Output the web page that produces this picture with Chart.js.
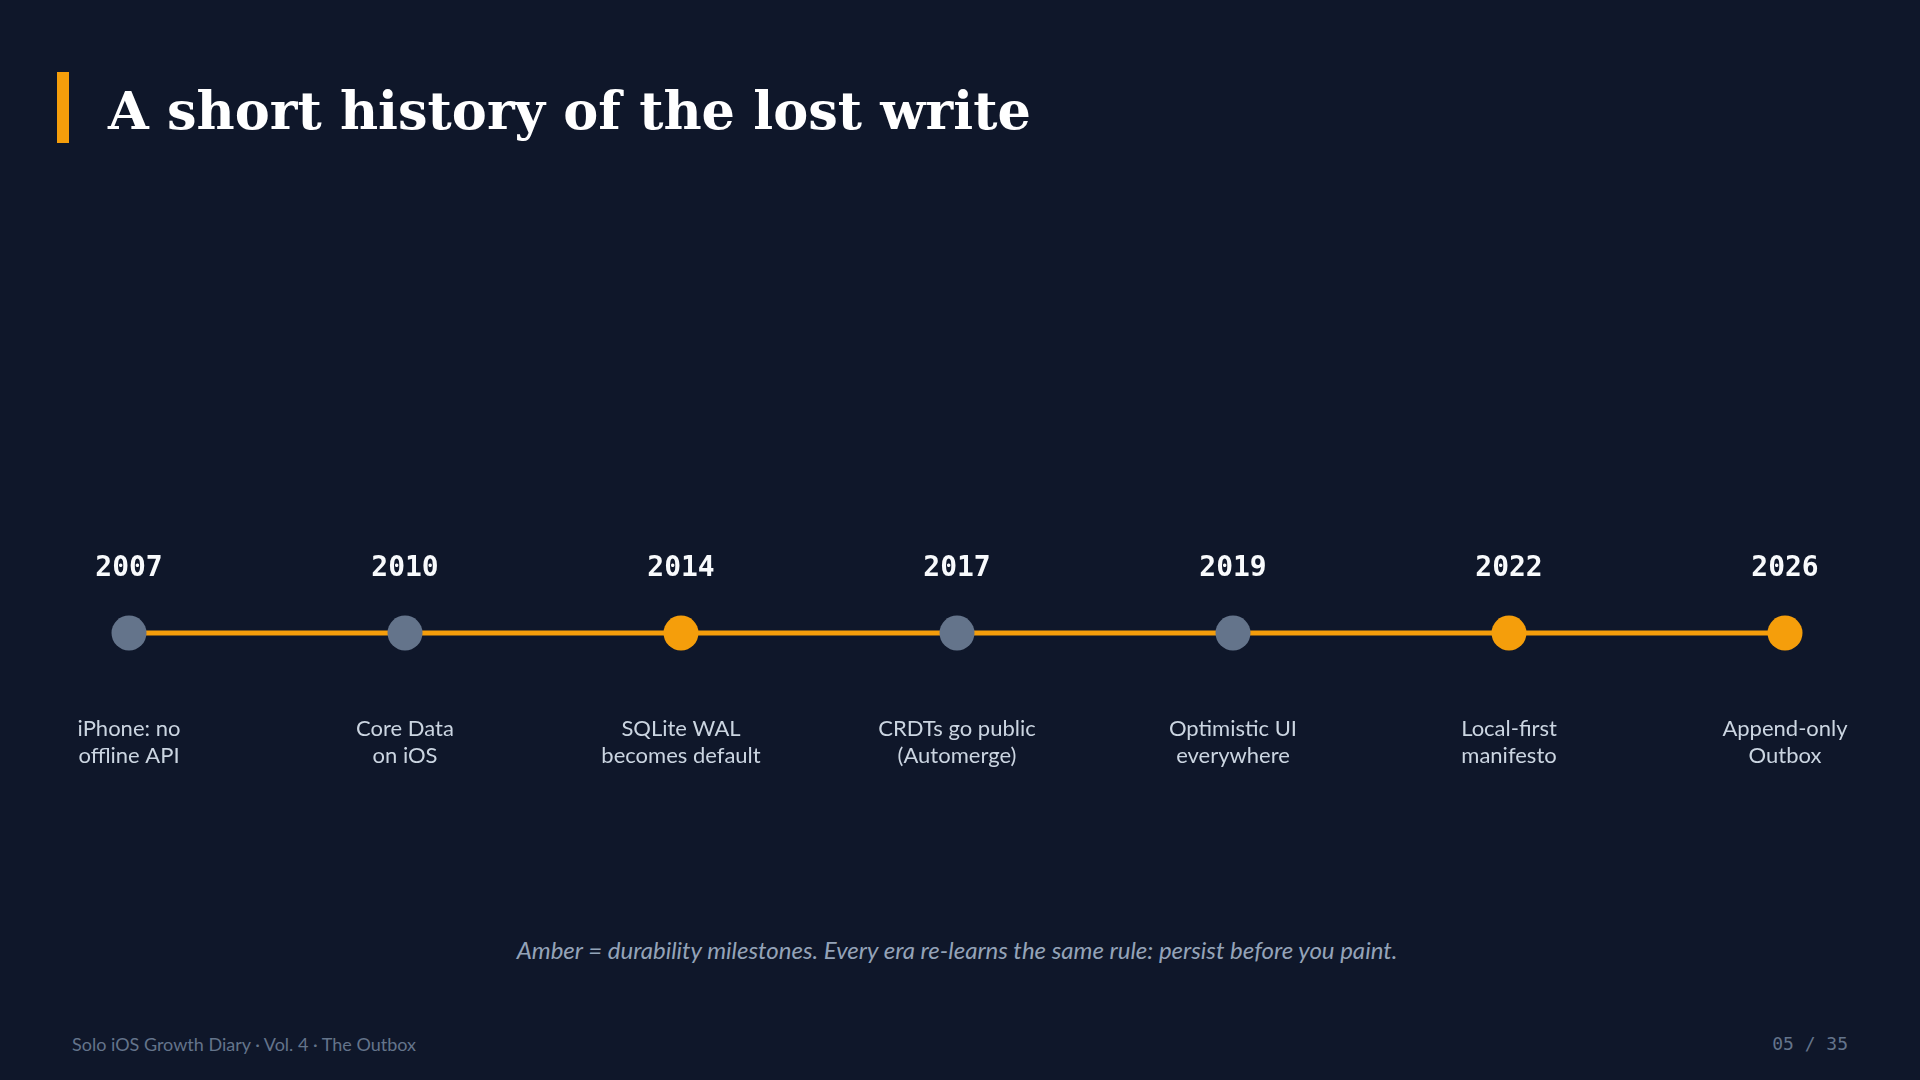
<!DOCTYPE html>
<html>
<head>
<meta charset="utf-8">
<script src="https://cdn.jsdelivr.net/npm/chart.js@4.4.1/dist/chart.umd.min.js"></script>
<style>
  html, body { margin: 0; padding: 0; background: #0f172a; }
  body { width: 1920px; height: 1080px; position: relative; overflow: hidden; font-family: Lato, "Noto Sans", sans-serif; }
  .bar { position: absolute; left: 57px; top: 72px; width: 12px; height: 71px; background: #f59e0b; }
  h1 { position: absolute; left: 108px; top: 76px; margin: 0; font-family: "DejaVu Serif", serif; font-weight: bold; font-size: 52.5px; line-height: 70px; color: #ffffff; }
  #wrap { position: absolute; left: 0; top: 483px; width: 1920px; height: 300px; }
  .caption { position: absolute; left: 0; width: 1914px; top: 935px; text-align: center; font-style: italic; font-size: 24px; color: #94a3b8; }
  .foot { position: absolute; top: 1033px; font-size: 18px; color: #64748b; }
  .foot.left { left: 72px; }
  .foot.right { right: 72px; font-family: "DejaVu Sans Mono", monospace; font-size: 18px; }
</style>
</head>
<body>
<div class="bar"></div>
<h1>A short history of the lost write</h1>
<div id="wrap"><canvas id="timeline"></canvas></div>
<div class="caption">Amber = durability milestones. Every era re-learns the same rule: persist before you paint.</div>
<div class="foot left">Solo iOS Growth Diary · Vol. 4 · The Outbox</div>
<div class="foot right">05 / 35</div>
<script>
const years = ["2007", "2010", "2014", "2017", "2019", "2022", "2026"];
const events = [
  ["iPhone: no", "offline API"],
  ["Core Data", "on iOS"],
  ["SQLite WAL", "becomes default"],
  ["CRDTs go public", "(Automerge)"],
  ["Optimistic UI", "everywhere"],
  ["Local-first", "manifesto"],
  ["Append-only", "Outbox"]
];
const durability = [false, false, true, false, false, true, true];
const track = [0, 0, 0, 0, 0, 0, 0];

const AMBER = "#f59e0b";
const SLATE = "#64748b";

// years above, event text below each point
const timelineLabels = {
  id: "timelineLabels",
  afterDatasetsDraw(chart) {
    const ctx = chart.ctx;
    const meta = chart.getDatasetMeta(0);
    ctx.save();
    ctx.textAlign = "center";
    meta.data.forEach((pt, i) => {
      ctx.fillStyle = "#f8fafc";
      ctx.font = "bold 28px 'DejaVu Sans Mono', monospace";
      ctx.textBaseline = "alphabetic";
      ctx.fillText(years[i], pt.x, pt.y - 57);
      ctx.fillStyle = "#cbd5e1";
      ctx.font = "22px Lato, 'Noto Sans', sans-serif";
      ctx.textBaseline = "middle";
      events[i].forEach((line, j) => {
        ctx.fillText(line, pt.x, pt.y + 96 + j * 27);
      });
    });
    ctx.restore();
  }
};

new Chart(document.getElementById("timeline"), {
  type: "line",
  data: {
    labels: years,
    datasets: [{
      data: track,
      borderColor: AMBER,
      borderWidth: 5,
      pointRadius: 17.5,
      pointHoverRadius: 17.5,
      pointBorderWidth: 0,
      pointBackgroundColor: durability.map(d => d ? AMBER : SLATE),
      clip: false,
      tension: 0
    }]
  },
  options: {
    responsive: true,
    maintainAspectRatio: false,
    animation: false,
    events: [],
    layout: { padding: { left: 129, right: 135, top: 0, bottom: 0 } },
    scales: {
      x: { display: false, offset: false },
      y: { display: false, min: -1, max: 1 }
    },
    plugins: {
      legend: { display: false },
      tooltip: { enabled: false }
    }
  },
  plugins: [timelineLabels]
});
</script>
</body>
</html>
